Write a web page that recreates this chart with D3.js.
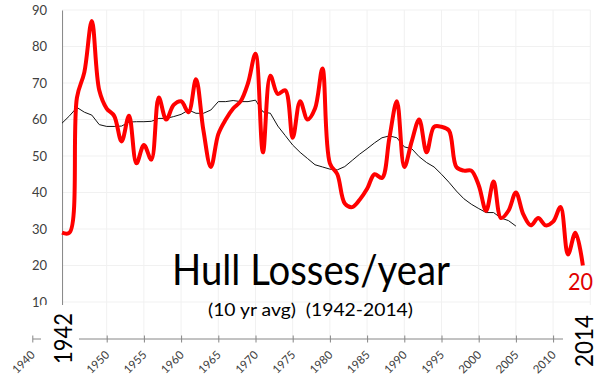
<!DOCTYPE html>
<html>
<head>
<meta charset="utf-8">
<title>Hull Losses/year</title>
<script src="https://d3js.org/d3.v7.min.js"></script>
<style>
  body { margin: 0; background: #fff; }
  svg text { font-family: Lato, "Open Sans", sans-serif; }
</style>
</head>
<body>
<script>
var width = 613
var height = 380

// yearly hull losses, one value per year on the chart axis (first point sits at 1944)
var lossYears = d3.range(1944, 2015)
var losses = [29, 29, 66, 73, 87, 68, 63, 61, 54, 61,
              48, 53, 49, 66, 60, 64, 65, 62, 71, 57,
              47, 56, 60, 63, 65, 70, 78, 51, 72, 67,
              68, 55, 65, 60, 63, 74, 48, 45, 37, 36,
              38, 41, 45, 44, 55, 65, 47, 54, 60, 51,
              58, 58, 57, 47, 46, 46, 42, 35, 43, 33,
              35, 40, 34, 31, 33, 31, 32, 36, 23, 29, 20]

// 10 yr average (black)
var avgYears = d3.range(1944, 2006)
var avg10 = [59.0, 61.0, 63.3, 62.0, 61.2, 58.6, 58.1, 58.1, 58.2, 59.3,
             59.4, 59.4, 59.5, 60.3, 60.3, 60.8, 61.4, 62.6, 61.7, 61.7,
             62.6, 64.9, 64.9, 65.2, 64.9, 64.9, 65.3, 62.1, 61.7, 58.2,
             55.6, 53.0, 51.0, 49.3, 47.6, 47.0, 46.4, 46.2, 47.1, 48.8,
             50.5, 52.0, 53.6, 55.0, 55.5, 55.0, 52.5, 52.0, 49.8, 48.2,
             47.0, 45.0, 42.8, 40.4, 38.3, 36.8, 35.6, 34.5, 34.5, 33.0,
             32.3, 30.8]

var xTicks = d3.range(1940, 2016, 5)
var yTicks = d3.range(10, 91, 10)

var x = d3.scaleLinear().domain([1940, 2015]).range([32.3, 590.3])
var y = d3.scaleLinear().domain([0, 90]).range([338.5, 10])

var svg = d3.select("body").append("svg")
  .attr("width", width)
  .attr("height", height)

// gridlines
svg.append("g")
  .selectAll("line")
  .data(yTicks)
  .enter()
  .append("line")
    .attr("x1", x(1944))
    .attr("x2", x(2015))
    .attr("y1", d => y(d))
    .attr("y2", d => y(d))
    .attr("stroke", "#f1f1f1")

svg.append("g")
  .selectAll("line")
  .data(xTicks.filter(d => d >= 1950))
  .enter()
  .append("line")
    .attr("x1", d => x(d))
    .attr("x2", d => x(d))
    .attr("y1", y(90))
    .attr("y2", y(0))
    .attr("stroke", "#f1f1f1")

// y axis
var yAxis = svg.append("g")
  .attr("transform", "translate(" + x(1944) + ",0)")
  .call(d3.axisLeft(y).tickValues(yTicks).tickSize(0).tickSizeOuter(0).tickPadding(15))
yAxis.select(".domain").attr("stroke", "#868686")
yAxis.selectAll("text").attr("font-size", 13).attr("fill", "#404040")

// x axis
var xAxis = svg.append("g")
  .attr("transform", "translate(0," + y(0) + ")")
  .call(d3.axisBottom(x).tickValues(xTicks).tickFormat(d3.format("d")).tickSizeOuter(0))
xAxis.select(".domain").attr("stroke", "#868686")
xAxis.selectAll(".tick line").attr("y1", -3).attr("y2", 4).attr("stroke", "#868686")
xAxis.selectAll(".tick text")
  .attr("font-size", 11.5)
  .attr("fill", "#404040")
  .attr("text-anchor", "end")
  .attr("y", 0)
  .attr("dy", 0)
  .attr("transform", "translate(3,17) rotate(-45)")

// lines
var lossLine = d3.line()
  .x((d, i) => x(lossYears[i]))
  .y(d => y(d))
  .curve(d3.curveCatmullRom.alpha(0.5))

var avgLine = d3.line()
  .x((d, i) => x(avgYears[i]))
  .y(d => y(d))

svg.append("path")
  .datum(avg10)
  .attr("d", avgLine)
  .attr("fill", "none")
  .attr("stroke", "#111")
  .attr("stroke-width", 1)

svg.append("path")
  .datum(losses)
  .attr("d", lossLine)
  .attr("fill", "none")
  .attr("stroke", "#ff0000")
  .attr("stroke-width", 4)
  .attr("stroke-linejoin", "round")

// text boxes
svg.append("rect").attr("x", 41).attr("y", 305).attr("width", 38).attr("height", 75).attr("fill", "#fff")
svg.append("rect").attr("x", 563).attr("y", 305).attr("width", 50).attr("height", 75).attr("fill", "#fff")

svg.append("text")
  .attr("transform", "translate(72,364) rotate(-90)")
  .attr("font-size", 25)
  .attr("textLength", 51)
  .attr("lengthAdjust", "spacingAndGlyphs")
  .attr("fill", "#000")
  .text("1942")

svg.append("text")
  .attr("transform", "translate(593,367) rotate(-90)")
  .attr("font-size", 25)
  .attr("textLength", 52)
  .attr("lengthAdjust", "spacingAndGlyphs")
  .attr("fill", "#000")
  .text("2014")

svg.append("text")
  .attr("x", 568)
  .attr("y", 290)
  .attr("font-size", 24)
  .attr("textLength", 25)
  .attr("lengthAdjust", "spacingAndGlyphs")
  .attr("fill", "#e00000")
  .text("20")

svg.append("text")
  .attr("x", 172)
  .attr("y", 285)
  .attr("font-size", 42)
  .attr("textLength", 278)
  .attr("lengthAdjust", "spacingAndGlyphs")
  .attr("fill", "#000")
  .text("Hull Losses/year")

svg.append("text")
  .attr("x", 208)
  .attr("y", 316)
  .attr("font-size", 17.5)
  .attr("textLength", 205)
  .attr("lengthAdjust", "spacingAndGlyphs")
  .attr("fill", "#000")
  .style("white-space", "pre")
  .text("(10 yr avg)  (1942-2014)")
</script>
</body>
</html>
